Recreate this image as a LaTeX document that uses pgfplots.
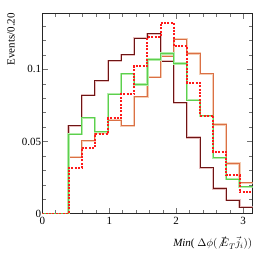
\documentclass[border=0pt]{standalone}
\usepackage{fontspec}
\setmainfont{Liberation Serif}
\usepackage{pgfplots}
\usepackage{pgfplotstable}
\pgfplotsset{compat=1.18}
\definecolor{dred}{HTML}{6E1414}
\definecolor{dredh}{HTML}{E6BDBD}
\definecolor{orng}{HTML}{DB7045}
\definecolor{orngh}{HTML}{F4CDB4}
\definecolor{grn}{HTML}{5CCF4E}
\definecolor{grnh}{HTML}{B2ECA8}
\definecolor{rdot}{HTML}{FF1A1A}

\pgfplotstableread{
x       dr      or      gr      rd
0       0       0       0       0
0.19635 0       0       0       0
0.39270 0.0610  0.0390  0.0550  0.0316
0.58905 0.0820  0.0505  0.0665  0.0455
0.78540 0.0920  0.0560  0.0567  0.0551
0.98175 0.1060  0.0648  0.0828  0.0660
1.17810 0.1100  0.0610  0.0970  0.0828
1.37445 0.1217  0.0810  0.0895  0.1024
1.57080 0.1247  0.0947  0.1068  0.1224
1.76715 0.1056  0.1090  0.1110  0.1323
1.96350 0.0768  0.1210  0.1040  0.1160
2.15985 0.0528  0.1110  0.0786  0.0906
2.35619 0.0318  0.0970  0.0678  0.0680
2.55254 0.0175  0.0618  0.0387  0.0427
2.74889 0.0093  0.0348  0.0238  0.0268
2.94524 0.0046  0.0214  0.0187  0.0148
3.14159 0.0046  0.0214  0.0187  0.0148
}\hist

\begin{document}
\begin{tikzpicture}[font=\fontsize{11}{13}\selectfont]
\useasboundingbox (-42.3pt,-41.3pt) rectangle (223.7pt,213.7pt);
\begin{axis}[
  at={(0,0)}, anchor=south west,
  scale only axis, width=210.4pt, height=200.7pt,
  xmin=0, xmax=3.14159, ymin=0, ymax=0.139,
  xtick={0,1,2,3}, xticklabels={0,1,2,3},
  minor xtick={0.2,0.4,0.6,0.8,1.2,1.4,1.6,1.8,2.2,2.4,2.6,2.8},
  ytick={0,0.05,0.1}, yticklabels={0,0.05,0.1},
  minor ytick={0.01,0.02,0.03,0.04,0.06,0.07,0.08,0.09,0.11,0.12,0.13},
  scaled y ticks=false,
  tick align=inside, tick pos=both,
  major tick length=6pt, minor tick length=3.5pt,
  axis line style={black!85, line width=0.6pt},
  every tick/.style={black!55, line width=0.5pt},
  /pgf/number format/assume math mode=true,
  xticklabel style={inner sep=1pt, yshift=-2pt},
  yticklabel style={inner sep=1pt},
  const plot,
  line join=miter,
]
\addplot[dredh, line width=2.2pt, forget plot] table[y=dr]{\hist};
\addplot[dred, line width=0.9pt] table[y=dr]{\hist};
\addplot[orngh, line width=2.2pt, forget plot] table[y=or]{\hist};
\addplot[orng, line width=0.9pt] table[y=or]{\hist};
\addplot[grnh, line width=2.2pt, forget plot] table[y=gr]{\hist};
\addplot[grn, line width=0.9pt] table[y=gr]{\hist};
\addplot[rdot, line width=2pt, dash pattern=on 2pt off 1.4pt] table[y=rd]{\hist};
\end{axis}
\node[rotate=90, anchor=east, inner sep=0pt] at (-31.3pt,200.7pt) {Events/0.20};
\node[anchor=east, inner sep=0pt] at (210pt,-29.3pt) {\textit{Min}( $\Delta\phi(\vec{\not{E}}_{T}\vec{j}_{i}))$};
\end{tikzpicture}
\end{document}
